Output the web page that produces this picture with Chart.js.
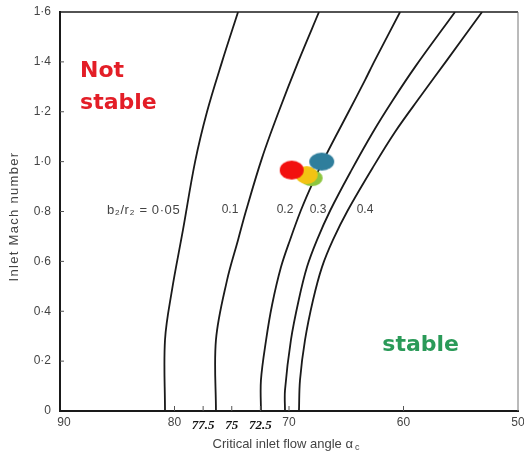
<!DOCTYPE html>
<html>
<head>
<meta charset="utf-8">
<script src="https://cdn.jsdelivr.net/npm/chart.js@4/dist/chart.umd.min.js"></script>
<style>
  html, body { margin: 0; padding: 0; background: #fff; }
  #chart { display: block; }
</style>
</head>
<body>
<canvas id="chart" width="524" height="461"></canvas>
<script>
// Stability limit curves: critical inlet flow angle (deg) vs inlet Mach number
const curveNames = ['0·05', '0.1', '0.2', '0.3', '0.4'];

const angle005 = [80.83, 80.83, 80.22, 79.26, 78.20, 77.16, 75.85, 74.45];
const mach005 = [0, 0.285, 0.485, 0.726, 1.0, 1.2, 1.4, 1.6];

const angle01 = [76.38, 76.38, 75.41, 74.45, 73.76, 72.36, 70.90, 69.20, 67.38];
const mach01 = [0, 0.285, 0.525, 0.686, 0.802, 1.014, 1.2, 1.4, 1.6];

const angle02 = [72.45, 72.45, 72.0, 71.48, 70.70, 69.91, 68.95, 67.90, 66.77, 64.85, 63.36, 62.49, 60.30];
const mach02 = [0, 0.124, 0.285, 0.425, 0.577, 0.686, 0.806, 0.918, 1.026, 1.195, 1.327, 1.407, 1.6];

const angle03 = [70.35, 70.35, 69.83, 69.15, 68.43, 67.55, 66.38, 64.54, 62.71, 60.92, 59.0, 55.50];
const mach03 = [0, 0.084, 0.285, 0.445, 0.577, 0.686, 0.806, 0.966, 1.115, 1.247, 1.379, 1.6];

const angle04 = [69.13, 69.04, 68.60, 67.90, 67.12, 66.16, 64.85, 62.66, 60.74, 58.56, 56.20, 53.14];
const mach04 = [0, 0.124, 0.285, 0.445, 0.577, 0.686, 0.806, 0.978, 1.119, 1.259, 1.407, 1.6];

// operating points (green, yellow, red, blue)
const pointAngles = [68.02, 68.45, 69.76, 67.14];
const pointMach = [0.934, 0.946, 0.966, 1.0];

const xTickValues = [90, 80, 77.5, 75, 72.5, 70, 60, 50];
const handTicks = [77.5, 75, 72.5];

// label anchors (angle, mach)
const curveLabelAngles = [79.5, 75.15, 70.35, 67.47, 63.36];
const curveLabelMach = 0.806;

const sansFont = '"Liberation Sans", Arial, sans-serif';
const inkColor = '#1a1a1a';
const textColor = '#444';
const pointColors = ['#8dc63f', '#f3c313', '#f2100f', '#2f7e9c'];
const pointSizes = [[22, 16], [22, 18], [24, 19], [25, 18]];

function toXY(xs, ys) {
    return xs.map((x, i) => ({ x: x, y: ys[i] }));
}

// soft ellipse sprite used as a point style
function ellipseSprite(color, w, h) {
    const c = document.createElement('canvas');
    c.width = w + 4;
    c.height = h + 4;
    const g = c.getContext('2d');
    g.filter = 'blur(0.7px)';
    g.fillStyle = color;
    g.beginPath();
    g.ellipse(c.width / 2, c.height / 2, w / 2, h / 2, 0, 0, Math.PI * 2);
    g.fill();
    return c;
}

const curveData = [
    toXY(angle005, mach005),
    toXY(angle01, mach01),
    toXY(angle02, mach02),
    toXY(angle03, mach03),
    toXY(angle04, mach04)
];

const curveSets = curveData.map((d, i) => ({
    label: 'b2/r2 = ' + curveNames[i],
    data: d,
    showLine: true,
    borderColor: inkColor,
    borderWidth: 1.8,
    pointRadius: 0,
    tension: 0.35,
    fill: false,
    order: 1
}));

const pointSet = {
    label: 'operating points',
    data: toXY(pointAngles, pointMach),
    pointStyle: pointColors.map((c, i) => ellipseSprite(c, pointSizes[i][0], pointSizes[i][1])),
    pointRadius: 12,
    showLine: false,
    order: 0
};

// frame, inward ticks, x tick labels and text annotations
const decorations = {
    id: 'decorations',
    afterDraw(chart) {
        const g = chart.ctx;
        const a = chart.chartArea;
        const xs = chart.scales.x;
        const ys = chart.scales.y;
        g.save();

        // top and right edges of the frame
        g.strokeStyle = inkColor;
        g.lineWidth = 1.5;
        g.beginPath();
        g.moveTo(a.left, a.top);
        g.lineTo(a.right, a.top);
        g.stroke();
        g.strokeStyle = '#777';
        g.lineWidth = 1;
        g.beginPath();
        g.moveTo(a.right, a.top);
        g.lineTo(a.right, a.bottom);
        g.stroke();

        // short ticks pointing into the plot
        g.strokeStyle = '#555';
        g.lineWidth = 1;
        ys.ticks.forEach(t => {
            const py = ys.getPixelForValue(t.value);
            if (t.value > 0 && t.value < 1.6) {
                g.beginPath();
                g.moveTo(a.left, py);
                g.lineTo(a.left + 4, py);
                g.stroke();
            }
        });
        xs.ticks.forEach(t => {
            const px = xs.getPixelForValue(t.value);
            if (t.value < 90 && t.value > 50) {
                g.beginPath();
                g.moveTo(px, a.bottom);
                g.lineTo(px, a.bottom - 5);
                g.stroke();
            }
        });

        // x tick labels, the pencilled ones set apart
        g.textBaseline = 'middle';
        g.textAlign = 'center';
        xs.ticks.forEach(t => {
            const px = xs.getPixelForValue(t.value);
            if (handTicks.includes(t.value)) {
                g.fillStyle = '#111';
                g.font = 'italic bold 13px "Liberation Serif", serif';
                g.fillText(String(t.value), px, a.bottom + 15);
            } else {
                g.fillStyle = textColor;
                g.font = '12px ' + sansFont;
                g.fillText(String(t.value), t.value === 90 ? px + 4 : px, a.bottom + 12);
            }
        });

        // curve labels
        g.fillStyle = textColor;
        const ly = ys.getPixelForValue(curveLabelMach);
        curveNames.forEach((name, i) => {
            const px = xs.getPixelForValue(curveLabelAngles[i]);
            if (i === 0) {
                g.font = '13px ' + sansFont;
                g.letterSpacing = '0.6px';
                g.textAlign = 'right';
                g.fillText('b₂/r₂ = ' + name, px, ly);
                g.letterSpacing = '0px';
            } else {
                g.font = '12px ' + sansFont;
                g.textAlign = 'center';
                g.fillText(name, px, ly);
            }
        });

        // stability regions
        g.font = 'bold 22px "DejaVu Sans", sans-serif';
        g.textAlign = 'left';
        g.fillStyle = '#e31e27';
        g.fillText('Not', xs.getPixelForValue(88.25), ys.getPixelForValue(1.363));
        g.fillText('stable', xs.getPixelForValue(88.25), ys.getPixelForValue(1.235));
        g.fillStyle = '#2a9a58';
        g.textAlign = 'center';
        g.fillText('stable', xs.getPixelForValue(58.5), ys.getPixelForValue(0.265));

        // axis titles
        g.fillStyle = textColor;
        g.font = '13px ' + sansFont;
        const main = 'Critical inlet flow angle α';
        const mainW = g.measureText(main).width;
        g.font = '9px ' + sansFont;
        const subW = g.measureText('c').width;
        const tx = (a.left + a.right) / 2 - 4 - (mainW + subW) / 2;
        const ty = a.bottom + 33;
        g.textAlign = 'left';
        g.font = '13px ' + sansFont;
        g.fillText(main, tx, ty);
        g.font = '9px ' + sansFont;
        g.fillText('c', tx + mainW + 2, ty + 4);

        g.font = '13px ' + sansFont;
        g.letterSpacing = '1.3px';
        g.translate(14, (a.top + a.bottom) / 2 + 5);
        g.rotate(-Math.PI / 2);
        g.textAlign = 'center';
        g.fillText('Inlet Mach number', 0, 0);

        g.restore();
    }
};

const ctx = document.getElementById('chart').getContext('2d');
const stabilityChart = new Chart(ctx, {
    type: 'scatter',
    data: { datasets: [pointSet].concat(curveSets) },
    options: {
        responsive: false,
        animation: false,
        devicePixelRatio: 1,
        layout: {
            autoPadding: false,
            padding: { left: 0, top: 12, right: 6, bottom: 0 }
        },
        plugins: {
            legend: { display: false },
            tooltip: { enabled: false }
        },
        scales: {
            x: {
                type: 'linear',
                reverse: true,
                min: 50,
                max: 90,
                afterBuildTicks: (scale) => {
                    scale.ticks = xTickValues.map(v => ({ value: v }));
                },
                afterFit: (scale) => { scale.height = 50; },
                grid: { display: false, drawTicks: false },
                border: { display: true, color: inkColor, width: 2 },
                ticks: { display: false }
            },
            y: {
                type: 'linear',
                min: 0,
                max: 1.6,
                afterFit: (scale) => {
                    scale.width = 60;
                    scale.paddingTop = 0;
                    scale.paddingBottom = 0;
                },
                grid: { display: false, drawTicks: false },
                border: { display: true, color: inkColor, width: 2 },
                ticks: {
                    stepSize: 0.2,
                    padding: 9,
                    color: textColor,
                    font: { family: sansFont, size: 12 },
                    callback: (v) => v === 0 ? '0' : v.toFixed(1).replace('.', '·')
                }
            }
        }
    },
    plugins: [decorations]
});
</script>
</body>
</html>
